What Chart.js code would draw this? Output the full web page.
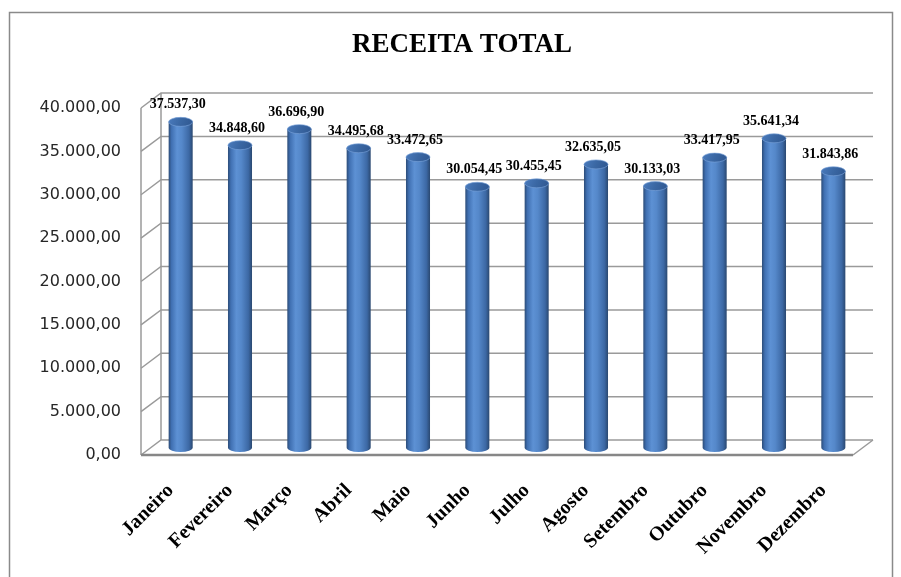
<!DOCTYPE html>
<html><head><meta charset="utf-8">
<script src="https://cdn.jsdelivr.net/npm/chart.js@4.4.0/dist/chart.umd.min.js"></script>
<style>html,body{margin:0;padding:0;background:#fff;overflow:hidden}#wrap{position:relative;width:901px;height:577px}</style>
</head><body><div id="wrap"><canvas id="c" width="901" height="577"></canvas></div>
<script>
const chartTitle = 'RECEITA TOTAL';
const categories = ['Janeiro','Fevereiro','Março','Abril','Maio','Junho','Julho','Agosto','Setembro','Outubro','Novembro','Dezembro'];
const values = [37537.30, 34848.60, 36696.90, 34495.68, 33472.65, 30054.45, 30455.45, 32635.05, 30133.03, 33417.95, 35641.34, 31843.86];
const yMin = 0, yMax = 40000, yStep = 5000;

function fmtBR(v){
  const s = Number(v).toFixed(2);
  let parts = s.split('.');
  const i = parts[0].replace(/\B(?=(\d{3})+(?!\d))/g, '.');
  return i + ',' + parts[1];
}

const DX = 20, DY = -15;      // depth of 3D walls
const BX = 10, BY = -7.5;     // cylinder offset (middle depth)
const RY = 4.5;               // ellipse vertical radius

const wallPlugin = {
  id: 'wall3d',
  beforeDatasetsDraw(chart){
    const ctx = chart.ctx, a = chart.chartArea, ys = chart.scales.y;
    ctx.save();
    ctx.strokeStyle = '#8a8a8a'; ctx.lineWidth = 1.5;
    ctx.strokeRect(9.5, 12.5, 883, 700);
    ctx.fillStyle = '#000';
    ctx.font = 'bold 27px "Liberation Serif"';
    ctx.textAlign = 'center'; ctx.textBaseline = 'middle';
    ctx.fillText(chartTitle, 462, 45);
    ctx.strokeStyle = '#9a9a9a'; ctx.lineWidth = 1.5;
    ys.ticks.forEach(t => {
      const y = ys.getPixelForValue(t.value);
      ctx.beginPath();
      ctx.moveTo(a.left, y);
      ctx.lineTo(a.left + DX, y + DY);
      ctx.lineTo(a.right + DX, y + DY);
      ctx.stroke();
    });
    const y0 = ys.getPixelForValue(yMin), y1 = ys.getPixelForValue(yMax);
    ctx.beginPath();
    ctx.moveTo(a.left, y0); ctx.lineTo(a.left, y1);
    ctx.moveTo(a.left + DX, y0 + DY); ctx.lineTo(a.left + DX, y1 + DY);
    ctx.moveTo(a.right, y0); ctx.lineTo(a.right + DX, y0 + DY);
    ctx.stroke();
    ctx.strokeStyle = '#878787'; ctx.lineWidth = 2.5;
    ctx.beginPath(); ctx.moveTo(a.left, y0); ctx.lineTo(a.right, y0); ctx.stroke();
    ctx.restore();
  },
  afterDatasetsDraw(chart){
    const ctx = chart.ctx;
    const meta = chart.getDatasetMeta(0);
    ctx.save();
    meta.data.forEach((el, i) => {
      const p = el.getProps(['x','y','base','width'], true);
      const cx = p.x + BX, top = p.y + BY, bot = p.base + BY, rx = p.width / 2;
      const l = cx - rx, r = cx + rx;
      const g = ctx.createLinearGradient(l, 0, r, 0);
      g.addColorStop(0, '#2c4c78');
      g.addColorStop(0.12, '#4070b2');
      g.addColorStop(0.35, '#5d91d4');
      g.addColorStop(0.55, '#5588ca');
      g.addColorStop(0.85, '#3c68a4');
      g.addColorStop(1, '#2a4870');
      ctx.fillStyle = g;
      ctx.beginPath();
      ctx.moveTo(l, top);
      ctx.lineTo(l, bot);
      ctx.ellipse(cx, bot, rx, RY, 0, Math.PI, 0, true);
      ctx.lineTo(r, top);
      ctx.closePath();
      ctx.fill();
      const g2 = ctx.createLinearGradient(l, top - RY, r, top + RY);
      g2.addColorStop(0, '#4a7bbd');
      g2.addColorStop(0.5, '#3a67a3');
      g2.addColorStop(1, '#2f5790');
      ctx.fillStyle = g2;
      ctx.beginPath();
      ctx.ellipse(cx, top, rx, RY, 0, 0, Math.PI * 2);
      ctx.fill();
      ctx.strokeStyle = 'rgba(120,160,215,0.8)'; ctx.lineWidth = 0.8;
      ctx.stroke();
      ctx.fillStyle = '#000';
      ctx.font = 'bold 14px "Liberation Serif"';
      ctx.textAlign = 'center'; ctx.textBaseline = 'middle';
      ctx.fillText(fmtBR(values[i]), cx - 3, top - 17);
    });
    ctx.restore();
  }
};

new Chart(document.getElementById('c'), {
  type: 'bar',
  data: {
    labels: categories,
    datasets: [{
      label: chartTitle,
      data: values,
      backgroundColor: 'rgba(0,0,0,0)',
      borderWidth: 0,
      categoryPercentage: 1,
      barPercentage: 0.405
    }]
  },
  options: {
    responsive: false,
    animation: false,
    devicePixelRatio: 1,
    layout: { padding: { left: 0, top: 108, right: 48, bottom: 0 } },
    plugins: { legend: { display: false }, title: { display: false }, tooltip: { enabled: false } },
    scales: {
      x: {
        grid: { display: false, drawTicks: false },
        border: { display: false },
        ticks: {
          color: '#000',
          font: { family: 'Liberation Serif', weight: 'bold', size: 20 },
          minRotation: 45, maxRotation: 45,
          padding: 24,
          autoSkip: false
        },
        afterFit(s){ s.height = 122; }
      },
      y: {
        min: yMin, max: yMax,
        grid: { display: false, drawTicks: false },
        border: { display: false },
        ticks: {
          stepSize: yStep,
          color: '#262626',
          font: { family: 'DejaVu Sans', size: 16 },
          padding: 20,
          callback: v => fmtBR(v)
        },
        afterFit(s){ s.width = 141; }
      }
    }
  },
  plugins: [wallPlugin]
});
</script>
</body></html>
